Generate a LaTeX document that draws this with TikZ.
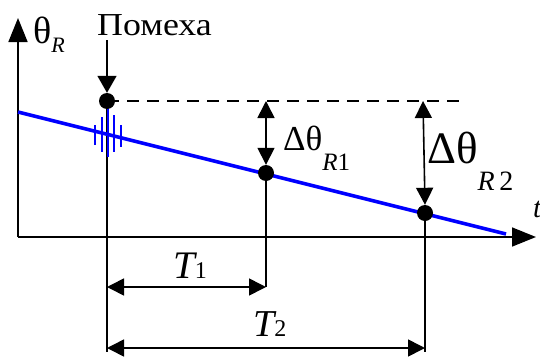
\documentclass[tikz,border=0pt]{standalone}
\usepackage{fontspec}
\setmainfont{Liberation Serif}
\usetikzlibrary{arrows.meta,calc}

\begin{document}
\begin{tikzpicture}[x=1pt,y=-1pt,
    axis/.style={line width=1.6pt,-{Triangle[length=24pt,width=19pt]}},
    dimline/.style={line width=1.6pt,{Triangle[length=17pt,width=17pt]}-{Triangle[length=17pt,width=17pt]}},
    pointer/.style={line width=1.6pt,-{Triangle[length=17pt,width=19pt]}},
    stem/.style={line width=2.4pt},
    dot/.style={circle,fill=black,inner sep=0pt,minimum size=16pt},
    burst/.style={blue,line width=2.6pt}]
    \useasboundingbox (0,0) rectangle (540,356);

    % Define the axes and the trend line
    \coordinate (O) at (18,237);
    \coordinate (Y) at (18,18);
    \coordinate (X) at (536,237);
    \coordinate (L0) at (18,112);
    \coordinate (L1) at (506,234);

    % Define the points
    \coordinate (P0) at (107,101);
    \coordinate (P1) at (266,173);
    \coordinate (P2) at (425,213);
    \coordinate (D) at (460,101);
    \coordinate (S0) at (107,352);
    \coordinate (S2) at (425,352);
    \coordinate (A1) at (107,287);
    \coordinate (B1) at (266,287);
    \coordinate (A2) at (107,348);
    \coordinate (B2) at (425,348);
    \coordinate (H1) at (266,101);
    \coordinate (H2) at (423,101);
    \coordinate (N) at (107,40);

    % Draw the axes
    \draw[axis] (O) -- (Y);
    \draw[axis] (O) -- (X);

    % Draw the stems
    \draw[stem] (P0) -- (S0);
    \draw[stem] (P1) -- (B1);
    \draw[stem] (P2) -- (S2);

    % Draw the trend line and the noise burst
    \draw[blue,line width=3.6pt] (L0) -- (L1);
    \foreach \dx/\yt/\yb in {-12/125/145,-5/117/152,1/108/157,7/115/152,14/125/147}
        \draw[burst] ($(P0)+(\dx,0)$) ++(0,\yt-101) -- ++(0,\yb-\yt);

    % Draw the dashed level
    \draw[line width=1.6pt,dash pattern=on 12pt off 8pt] (P0) -- (D);

    % Draw the points
    \node[dot] (n0) at (P0) {};
    \node[dot] (n1) at (P1) {};
    \node[dot] (n2) at (P2) {};

    % Draw the arrows
    \draw[pointer] (N) -- (n0.north);
    \draw[dimline] (H1) -- (n1.north);
    \draw[dimline] (H2) -- (n2.north);
    \draw[dimline] (A1) -- (B1);
    \draw[dimline] (A2) -- (B2);

    % Place the labels
    \node[anchor=base west,inner sep=0pt] (noise) at (97,35)
        {\scalebox{1.12}[1]{\fontsize{32}{32}\selectfont Помеха}};
    \node[anchor=base west,inner sep=0pt] (ylab) at (33,43)
        {{\fontsize{38}{38}\selectfont θ}\raisebox{-9pt}{\fontsize{22}{22}\selectfont\itshape R}};
    \node[anchor=base west,inner sep=0pt] (d1) at (283,150)
        {{\fontsize{35}{35}\selectfont Δθ}\raisebox{-20pt}{\fontsize{25}{25}\selectfont\itshape R\upshape 1}};
    \node[anchor=base west,inner sep=0pt] (d2) at (427,163)
        {{\fontsize{45}{45}\selectfont Δθ}\raisebox{-27pt}{\fontsize{28}{28}\selectfont\itshape R\,\upshape 2}};
    \node[anchor=base west,inner sep=0pt] (t1) at (173,278)
        {{\fontsize{39}{39}\selectfont\itshape T}{\fontsize{24}{24}\selectfont 1}};
    \node[anchor=base west,inner sep=0pt] (t2) at (253,336)
        {{\fontsize{38}{38}\selectfont\itshape T}{\fontsize{24}{24}\selectfont 2}};
    \node[anchor=base west,inner sep=0pt,font=\fontsize{29}{29}\selectfont\itshape] (tlab) at (533,217) {t};

\end{tikzpicture}
\end{document}
